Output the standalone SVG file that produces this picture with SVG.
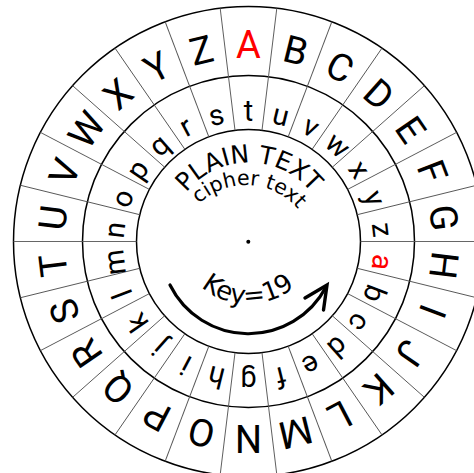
<svg xmlns="http://www.w3.org/2000/svg" xmlns:xlink="http://www.w3.org/1999/xlink" width="474" height="473" viewBox="0 0 474 473">
<style>
.ring{fill:none;stroke:#000;stroke-width:1.5}
.div{stroke:#555;stroke-width:0.9}
.up{font-family:Roboto,"Liberation Sans",sans-serif;font-size:38px;text-anchor:middle;fill:#000}
.lo{font-family:Roboto,"Liberation Sans",sans-serif;font-size:29px;text-anchor:middle;fill:#000}
.red{fill:#ff0000}
.lbl{font-family:"DejaVu Sans",sans-serif;fill:#000;text-anchor:middle}
</style>
<defs>
<path id="pPlain" d="M169,242.5 A80,80 0 0 1 329,242.5"/>
<path id="pCipher" d="M178,253 A68,68 0 0 1 314,253"/>
<path id="pKey" d="M176,232 A72,72 0 0 0 320,232"/>
</defs>
<rect width="474" height="473" fill="#fff"/>
<g id="circles">
<circle class="ring" cx="248.5" cy="241.5" r="235"/>
<circle class="ring" cx="248.5" cy="241.5" r="166"/>
<circle class="ring" cx="248.5" cy="241.5" r="112"/>
</g>
<g id="dividers">
<line class="div" x1="248.5" y1="129.5" x2="248.5" y2="6.5" transform="rotate(6.923 248.5 241.5)"/>
<line class="div" x1="248.5" y1="129.5" x2="248.5" y2="6.5" transform="rotate(20.769 248.5 241.5)"/>
<line class="div" x1="248.5" y1="129.5" x2="248.5" y2="6.5" transform="rotate(34.615 248.5 241.5)"/>
<line class="div" x1="248.5" y1="129.5" x2="248.5" y2="6.5" transform="rotate(48.462 248.5 241.5)"/>
<line class="div" x1="248.5" y1="129.5" x2="248.5" y2="6.5" transform="rotate(62.308 248.5 241.5)"/>
<line class="div" x1="248.5" y1="129.5" x2="248.5" y2="6.5" transform="rotate(76.154 248.5 241.5)"/>
<line class="div" x1="248.5" y1="129.5" x2="248.5" y2="6.5" transform="rotate(90 248.5 241.5)"/>
<line class="div" x1="248.5" y1="129.5" x2="248.5" y2="6.5" transform="rotate(103.846 248.5 241.5)"/>
<line class="div" x1="248.5" y1="129.5" x2="248.5" y2="6.5" transform="rotate(117.692 248.5 241.5)"/>
<line class="div" x1="248.5" y1="129.5" x2="248.5" y2="6.5" transform="rotate(131.538 248.5 241.5)"/>
<line class="div" x1="248.5" y1="129.5" x2="248.5" y2="6.5" transform="rotate(145.385 248.5 241.5)"/>
<line class="div" x1="248.5" y1="129.5" x2="248.5" y2="6.5" transform="rotate(159.231 248.5 241.5)"/>
<line class="div" x1="248.5" y1="129.5" x2="248.5" y2="6.5" transform="rotate(173.077 248.5 241.5)"/>
<line class="div" x1="248.5" y1="129.5" x2="248.5" y2="6.5" transform="rotate(186.923 248.5 241.5)"/>
<line class="div" x1="248.5" y1="129.5" x2="248.5" y2="6.5" transform="rotate(200.769 248.5 241.5)"/>
<line class="div" x1="248.5" y1="129.5" x2="248.5" y2="6.5" transform="rotate(214.615 248.5 241.5)"/>
<line class="div" x1="248.5" y1="129.5" x2="248.5" y2="6.5" transform="rotate(228.462 248.5 241.5)"/>
<line class="div" x1="248.5" y1="129.5" x2="248.5" y2="6.5" transform="rotate(242.308 248.5 241.5)"/>
<line class="div" x1="248.5" y1="129.5" x2="248.5" y2="6.5" transform="rotate(256.154 248.5 241.5)"/>
<line class="div" x1="248.5" y1="129.5" x2="248.5" y2="6.5" transform="rotate(270 248.5 241.5)"/>
<line class="div" x1="248.5" y1="129.5" x2="248.5" y2="6.5" transform="rotate(283.846 248.5 241.5)"/>
<line class="div" x1="248.5" y1="129.5" x2="248.5" y2="6.5" transform="rotate(297.692 248.5 241.5)"/>
<line class="div" x1="248.5" y1="129.5" x2="248.5" y2="6.5" transform="rotate(311.538 248.5 241.5)"/>
<line class="div" x1="248.5" y1="129.5" x2="248.5" y2="6.5" transform="rotate(325.385 248.5 241.5)"/>
<line class="div" x1="248.5" y1="129.5" x2="248.5" y2="6.5" transform="rotate(339.231 248.5 241.5)"/>
<line class="div" x1="248.5" y1="129.5" x2="248.5" y2="6.5" transform="rotate(353.077 248.5 241.5)"/>
</g>
<g id="plain-ring">
<text class="up red" x="248.5" y="58" transform="rotate(0 248.5 241.5)">A</text>
<text class="up" x="248.5" y="58" transform="rotate(13.846 248.5 241.5)">B</text>
<text class="up" x="248.5" y="58" transform="rotate(27.692 248.5 241.5)">C</text>
<text class="up" x="248.5" y="58" transform="rotate(41.538 248.5 241.5)">D</text>
<text class="up" x="248.5" y="58" transform="rotate(55.385 248.5 241.5)">E</text>
<text class="up" x="248.5" y="58" transform="rotate(69.231 248.5 241.5)">F</text>
<text class="up" x="248.5" y="58" transform="rotate(83.077 248.5 241.5)">G</text>
<text class="up" x="248.5" y="58" transform="rotate(96.923 248.5 241.5)">H</text>
<text class="up" x="248.5" y="58" transform="rotate(110.769 248.5 241.5)">I</text>
<text class="up" x="248.5" y="58" transform="rotate(124.615 248.5 241.5)">J</text>
<text class="up" x="248.5" y="58" transform="rotate(138.462 248.5 241.5)">K</text>
<text class="up" x="248.5" y="58" transform="rotate(152.308 248.5 241.5)">L</text>
<text class="up" x="248.5" y="58" transform="rotate(166.154 248.5 241.5)">M</text>
<text class="up" x="248.5" y="58" transform="rotate(180 248.5 241.5)">N</text>
<text class="up" x="248.5" y="58" transform="rotate(193.846 248.5 241.5)">O</text>
<text class="up" x="248.5" y="58" transform="rotate(207.692 248.5 241.5)">P</text>
<text class="up" x="248.5" y="58" transform="rotate(221.538 248.5 241.5)">Q</text>
<text class="up" x="248.5" y="58" transform="rotate(235.385 248.5 241.5)">R</text>
<text class="up" x="248.5" y="58" transform="rotate(249.231 248.5 241.5)">S</text>
<text class="up" x="248.5" y="58" transform="rotate(263.077 248.5 241.5)">T</text>
<text class="up" x="248.5" y="58" transform="rotate(276.923 248.5 241.5)">U</text>
<text class="up" x="248.5" y="58" transform="rotate(290.769 248.5 241.5)">V</text>
<text class="up" x="248.5" y="58" transform="rotate(304.615 248.5 241.5)">W</text>
<text class="up" x="248.5" y="58" transform="rotate(318.462 248.5 241.5)">X</text>
<text class="up" x="248.5" y="58" transform="rotate(332.308 248.5 241.5)">Y</text>
<text class="up" x="248.5" y="58" transform="rotate(346.154 248.5 241.5)">Z</text>
</g>
<g id="cipher-ring">
<text class="lo" x="248.5" y="121" transform="rotate(0 248.5 246)">t</text>
<text class="lo" x="248.5" y="121" transform="rotate(13.846 248.5 246)">u</text>
<text class="lo" x="248.5" y="121" transform="rotate(27.692 248.5 246)">v</text>
<text class="lo" x="248.5" y="121" transform="rotate(41.538 248.5 246)">w</text>
<text class="lo" x="248.5" y="121" transform="rotate(55.385 248.5 246)">x</text>
<text class="lo" x="248.5" y="121" transform="rotate(69.231 248.5 246)">y</text>
<text class="lo" x="248.5" y="121" transform="rotate(83.077 248.5 246)">z</text>
<text class="lo red" x="248.5" y="121" transform="rotate(96.923 248.5 246)">a</text>
<text class="lo" x="248.5" y="121" transform="rotate(110.769 248.5 246)">b</text>
<text class="lo" x="248.5" y="121" transform="rotate(124.615 248.5 246)">c</text>
<text class="lo" x="248.5" y="121" transform="rotate(138.462 248.5 246)">d</text>
<text class="lo" x="248.5" y="121" transform="rotate(152.308 248.5 246)">e</text>
<text class="lo" x="248.5" y="121" transform="rotate(166.154 248.5 246)">f</text>
<text class="lo" x="248.5" y="121" transform="rotate(180 248.5 246)">g</text>
<text class="lo" x="248.5" y="121" transform="rotate(193.846 248.5 246)">h</text>
<text class="lo" x="248.5" y="121" transform="rotate(207.692 248.5 246)">i</text>
<text class="lo" x="248.5" y="121" transform="rotate(221.538 248.5 246)">j</text>
<text class="lo" x="248.5" y="121" transform="rotate(235.385 248.5 246)">k</text>
<text class="lo" x="248.5" y="121" transform="rotate(249.231 248.5 246)">l</text>
<text class="lo" x="248.5" y="121" transform="rotate(263.077 248.5 246)">m</text>
<text class="lo" x="248.5" y="121" transform="rotate(276.923 248.5 246)">n</text>
<text class="lo" x="248.5" y="121" transform="rotate(290.769 248.5 246)">o</text>
<text class="lo" x="248.5" y="121" transform="rotate(304.615 248.5 246)">p</text>
<text class="lo" x="248.5" y="121" transform="rotate(318.462 248.5 246)">q</text>
<text class="lo" x="248.5" y="121" transform="rotate(332.308 248.5 246)">r</text>
<text class="lo" x="248.5" y="121" transform="rotate(346.154 248.5 246)">s</text>
</g>
<g id="center-labels">
<text class="lbl" font-size="25"><textPath xlink:href="#pPlain" href="#pPlain" startOffset="50%">PLAIN TEXT</textPath></text>
<text class="lbl" font-size="20.5"><textPath xlink:href="#pCipher" href="#pCipher" startOffset="110.3">cipher text</textPath></text>
<text class="lbl" font-size="26"><textPath xlink:href="#pKey" href="#pKey" startOffset="50%">Key=19</textPath></text>
<circle cx="248.3" cy="241.7" r="2" fill="#000"/>
</g>
<g id="connectors">
<path d="M170,285 A87.6,87.6 0 0 0 326,287" fill="none" stroke="#000" stroke-width="3.2" stroke-linecap="round"/>
<path d="M305,298 L327,285 L323.5,310" fill="none" stroke="#000" stroke-width="3.4" stroke-linecap="round" stroke-linejoin="miter"/>
</g>
</svg>
